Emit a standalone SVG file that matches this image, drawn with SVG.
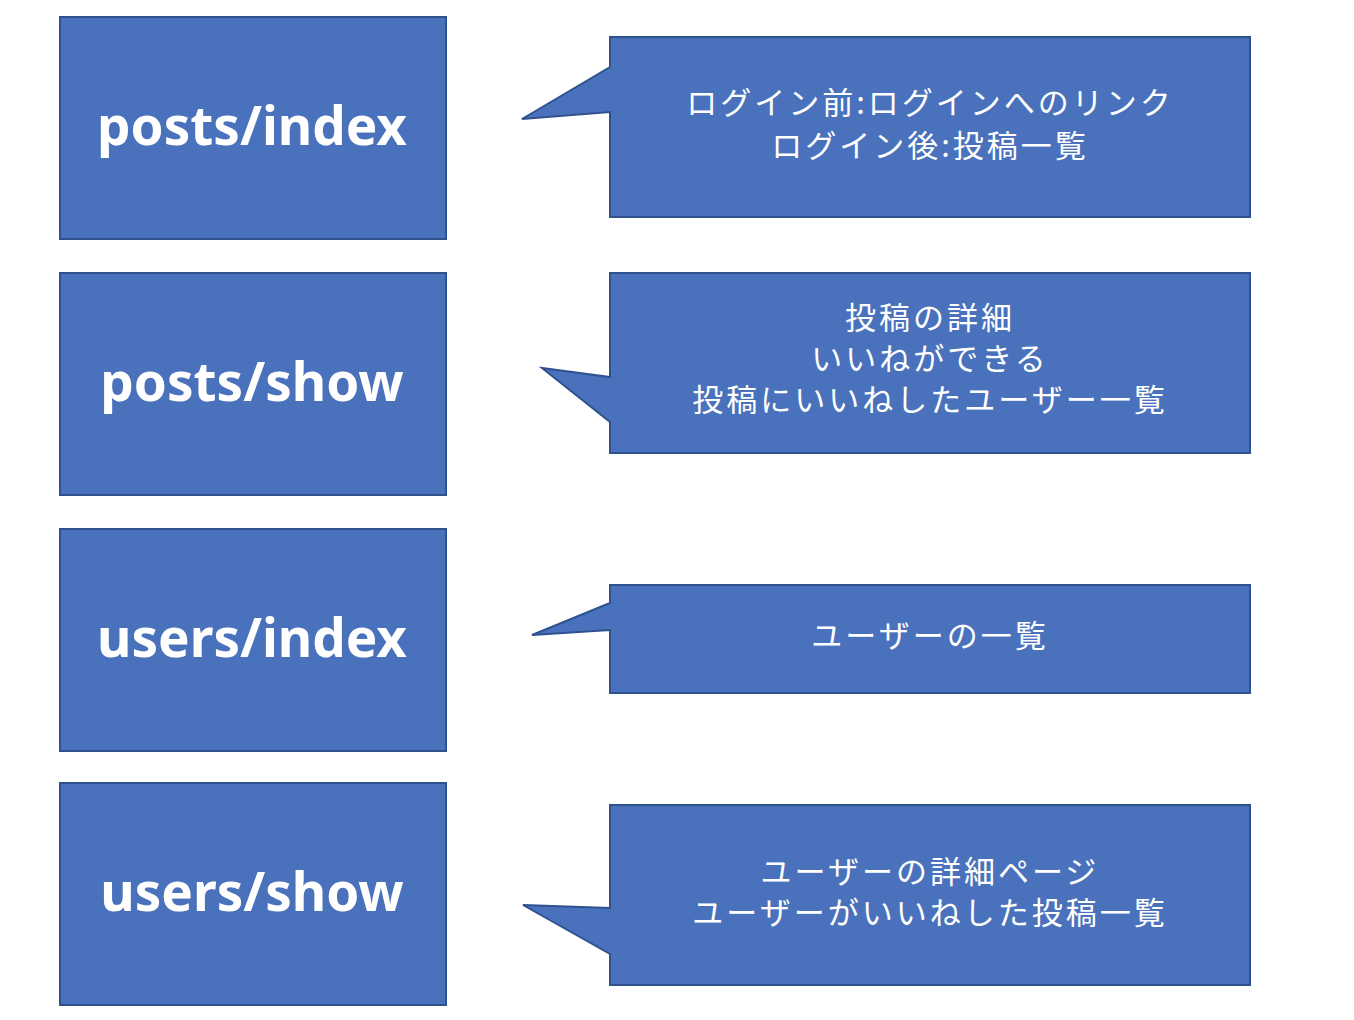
<svg xmlns="http://www.w3.org/2000/svg" width="1354" height="1020" viewBox="0 0 1354 1020">
<style>
.box{fill:#4a72bc;stroke:#2f528f;stroke-width:2}
.big{font-family:"Noto Sans","Open Sans","Noto Sans CJK JP",sans-serif;font-weight:bold;font-size:53px;fill:#fff;text-anchor:middle}
.lbl{font-family:"Noto Sans CJK JP",sans-serif;font-size:31px;letter-spacing:3px;fill:#fff;text-anchor:middle}
</style>
<rect width="1354" height="1020" fill="#fff"/>
<g id="posts-index"><rect class="box" x="60" y="17" width="386" height="222"/><text class="big" x="252" y="145">posts/index</text></g>
<g id="posts-show"><rect class="box" x="60" y="273" width="386" height="222"/><text class="big" x="252" y="401">posts/show</text></g>
<g id="users-index"><rect class="box" x="60" y="529" width="386" height="222"/><text class="big" x="252" y="657">users/index</text></g>
<g id="users-show"><rect class="box" x="60" y="783" width="386" height="222"/><text class="big" x="252" y="911">users/show</text></g>
<g id="callout-1"><path class="box" d="M610,37 H1250 V217 H610 V112 L522,119 L610,67 Z"/>
<text class="lbl" x="930" y="114">ログイン前:ログインへのリンク</text><text class="lbl" x="930" y="157">ログイン後:投稿一覧</text></g>
<g id="callout-2"><path class="box" d="M610,273 H1250 V453 H610 V422 L542,368 L610,377 Z"/>
<text class="lbl" x="930" y="329">投稿の詳細</text><text class="lbl" x="930" y="370">いいねができる</text><text class="lbl" x="930" y="411">投稿にいいねしたユーザー一覧</text></g>
<g id="callout-3"><path class="box" d="M610,585 H1250 V693 H610 V630 L532,635 L610,603 Z"/>
<text class="lbl" x="930" y="647">ユーザーの一覧</text></g>
<g id="callout-4"><path class="box" d="M610,805 H1250 V985 H610 V954 L523,905 L610,908 Z"/>
<text class="lbl" x="930" y="883">ユーザーの詳細ページ</text><text class="lbl" x="930" y="924">ユーザーがいいねした投稿一覧</text></g>
<g id="connectors"></g>
</svg>
